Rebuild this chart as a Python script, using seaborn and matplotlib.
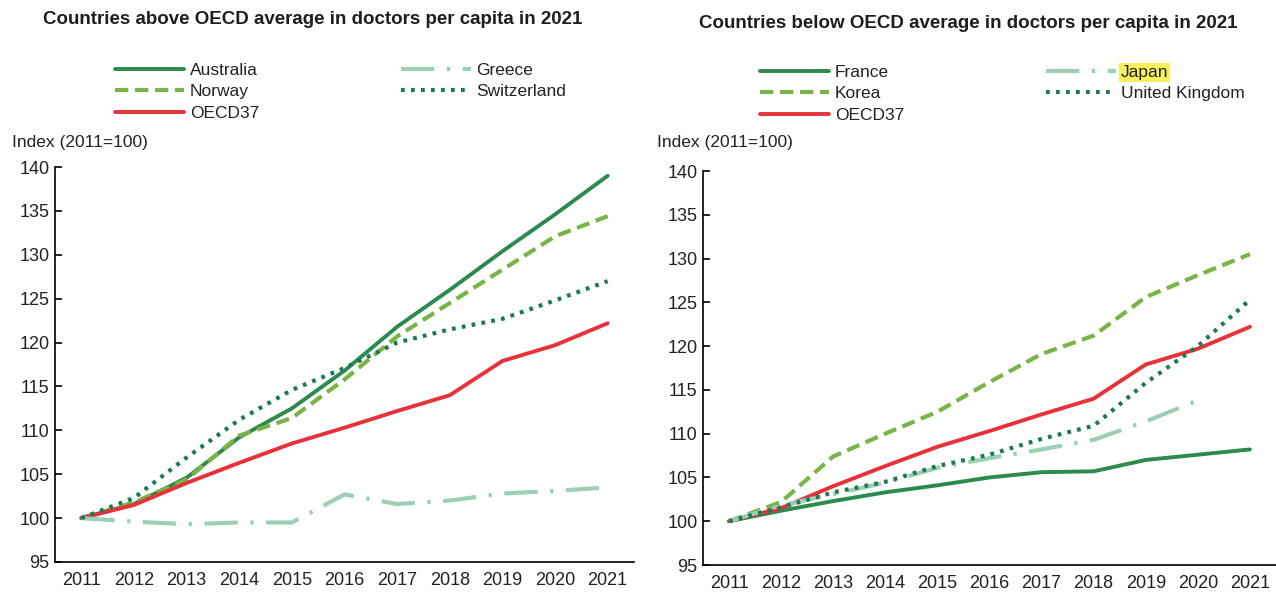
import matplotlib
matplotlib.use("Agg")
import matplotlib.pyplot as plt
import seaborn as sns
import numpy as np
import pandas as pd

years = list(range(2011, 2022))

# Left panel: countries above OECD average
australia = [100, 101.6, 104.6, 109.2, 112.5, 116.8, 121.8, 126.0, 130.4, 134.6, 139.0]
norway = [100, 101.8, 104.4, 109.4, 111.4, 115.8, 120.7, 124.5, 128.3, 132.1, 134.4]
switzerland = [100, 102.3, 106.9, 111.2, 114.6, 117.1, 120.0, 121.5, 122.7, 124.8, 127.0]
greece = [100, 99.6, 99.3, 99.5, 99.5, 102.7, 101.6, 102.0, 102.8, 103.1, 103.5]
oecd37 = [100, 101.5, 104.0, 106.3, 108.5, 110.3, 112.2, 114.0, 117.9, 119.7, 122.2]

# Right panel: countries below OECD average
france = [100, 101.2, 102.3, 103.3, 104.1, 105.0, 105.6, 105.7, 107.0, 107.6, 108.2]
korea = [100, 102.2, 107.4, 110.0, 112.5, 115.9, 119.1, 121.2, 125.6, 128.1, 130.5]
japan_years = list(range(2011, 2021))
japan = [100, 101.8, 103.1, 104.4, 106.1, 107.2, 108.2, 109.3, 111.4, 113.8]
uk = [100, 101.6, 103.3, 104.5, 106.3, 107.6, 109.4, 110.9, 115.8, 120.0, 125.3]

xtick_labels = [str(y) for y in years]
title_left = "Countries above OECD average in doctors per capita in 2021"
title_right = "Countries below OECD average in doctors per capita in 2021"
ylabel = "Index (2011=100)"

sns.set_theme(style="white")
plt.rcParams['font.family'] = ['Liberation Sans', 'DejaVu Sans']

C_SOLID = "#2b8a4c"
C_DASH = "#79b446"
C_DOT = "#1b7a50"
C_DASHDOT = "#9ccfb3"
C_RED = "#e8313b"

ST_SOLID = "-"
ST_DASH = (0, (3.2, 1.6))
ST_DOT = (0, (0.9, 1.5))
ST_DASHDOT = (0, (8, 3, 0.8, 3))

fig = plt.figure(figsize=(12.76, 5.93), dpi=100)
axL = fig.add_axes([55/1276, 1-562/593, (634-55)/1276, (562-167)/593])
axR = fig.add_axes([703/1276, 1-565/593, (1276-703)/1276, (565-171)/593])

def draw(ax, series):
    for name, xs, ys, color, ls, lw in series:
        sns.lineplot(x=xs, y=ys, ax=ax, color=color, linestyle=ls, linewidth=lw,
                     label=name, legend=False)
    ax.set_xlim(2010.5, 2021.5)
    ax.set_ylim(95, 140)
    ax.set_yticks(np.arange(95, 141, 5))
    ax.set_xticks(years)
    ax.set_xticklabels(xtick_labels)
    ax.set_xticks(np.arange(2011.5, 2022, 1), minor=True)
    ax.tick_params(axis='x', which='major', length=0, pad=7, labelsize=13, colors='#222222')
    ax.tick_params(axis='x', which='minor', direction='in', length=6, width=1.2, color='black')
    ax.tick_params(axis='y', direction='in', length=5, width=1.2, pad=4, labelsize=13,
                   left=True)
    ax.tick_params(axis='y', colors='black', labelcolor='#222222')
    for s in ['top', 'right']:
        ax.spines[s].set_visible(False)
    for s in ['left', 'bottom']:
        ax.spines[s].set_color('black')
        ax.spines[s].set_linewidth(1.2)
    ax.set_xlabel("")
    ax.set_ylabel("")
    ax.grid(False)

left_series = [
    ("Australia", years, australia, C_SOLID, ST_SOLID, 2.8),
    ("Norway", years, norway, C_DASH, ST_DASH, 3.0),
    ("OECD37", years, oecd37, C_RED, ST_SOLID, 2.8),
    ("Greece", years, greece, C_DASHDOT, ST_DASHDOT, 3.0),
    ("Switzerland", years, switzerland, C_DOT, ST_DOT, 3.0),
]
right_series = [
    ("France", years, france, C_SOLID, ST_SOLID, 2.8),
    ("Korea", years, korea, C_DASH, ST_DASH, 3.0),
    ("OECD37", years, oecd37, C_RED, ST_SOLID, 2.8),
    ("Japan", japan_years, japan, C_DASHDOT, ST_DASHDOT, 3.0),
    ("United Kingdom", years, uk, C_DOT, ST_DOT, 3.0),
]
draw(axL, left_series)
draw(axR, right_series)

def make_legend(ax, x_px, y_px):
    h, l = ax.get_legend_handles_labels()
    leg = fig.legend(h, l, ncol=2, loc='upper left',
                     bbox_to_anchor=(x_px/1276, 1-y_px/593), bbox_transform=fig.transFigure,
                     frameon=False, fontsize=12.5, handlelength=4.0, handletextpad=0.3,
                     columnspacing=8.2, labelspacing=0.35, borderpad=0, borderaxespad=0)
    for t in leg.get_texts():
        t.set_color('#222222')
    return leg

make_legend(axL, 115, 63)
legR = make_legend(axR, 760, 65)
for t in legR.get_texts():
    if t.get_text() == "Japan":
        t.set_bbox(dict(facecolor='#f7f25c', edgecolor='none', pad=1.5))

fig.text(313/1276, 1-20/593, title_left, ha='center', va='center', fontsize=13.5,
         color='#1e1e1e', fontweight='semibold')
fig.text(968/1276, 1-24/593, title_right, ha='center', va='center', fontsize=13.5,
         color='#1e1e1e', fontweight='semibold')
fig.text(12/1276, 1-142/593, ylabel, ha='left', va='center', fontsize=12.5, color='#222222')
fig.text(657/1276, 1-142/593, ylabel, ha='left', va='center', fontsize=12.5, color='#222222')

fig.savefig("out.png", dpi=100)
